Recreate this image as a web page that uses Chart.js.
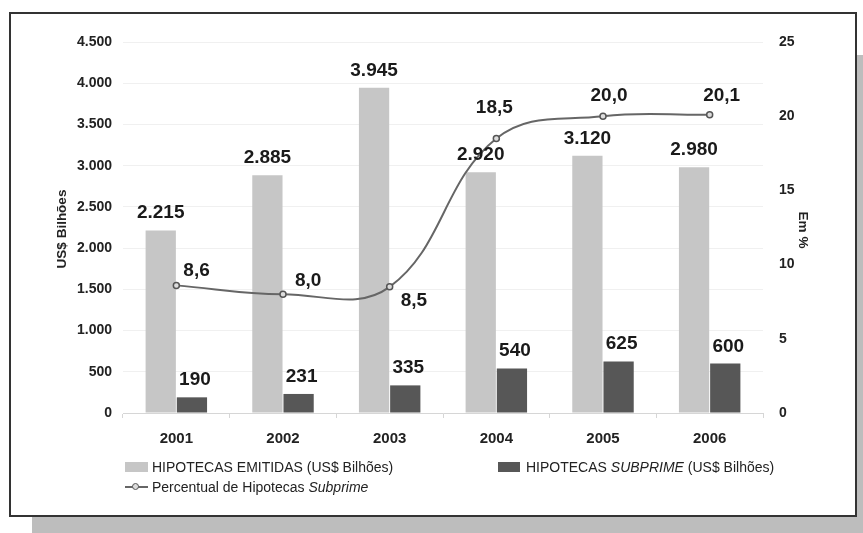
<!DOCTYPE html>
<html>
<head>
<meta charset="utf-8">
<script src="https://cdn.jsdelivr.net/npm/chart.js@4"></script>
<style>
  body { margin: 0; background: #fff; font-family: Arial, "Liberation Sans", sans-serif; }
  #wrap { position: relative; width: 863px; height: 533px; overflow: hidden; }
  #box { position: absolute; left: 9px; top: 12px; width: 848px; height: 505px; box-sizing: border-box;
         border: 2px solid #333; background: #fff; box-shadow: 23px 43px 0 #bdbdbd; }
  #chart { position: absolute; left: 0; top: 0; }
  .lg { position: absolute; font-size: 14px; line-height: 16px; color: #222; white-space: nowrap; }
  .sw { position: absolute; }
</style>
</head>
<body>
<div id="wrap">
  <div id="box"></div>
  <canvas id="chart" width="863" height="533"></canvas>
  <div class="sw" style="left:125px;top:462px;width:23px;height:10px;background:#c6c6c6"></div>
  <div class="lg" style="left:152px;top:459px">HIPOTECAS EMITIDAS (US$ Bilhões)</div>
  <div class="sw" style="left:498px;top:462px;width:22px;height:10px;background:#575757"></div>
  <div class="lg" style="left:526px;top:459px">HIPOTECAS <i>SUBPRIME</i> (US$ Bilhões)</div>
  <div class="sw" style="left:125px;top:486px;width:23px;height:2px;background:#666"></div>
  <div class="sw" style="left:132px;top:483px;width:5px;height:5px;border:1.5px solid #555;border-radius:50%;background:#ddd"></div>
  <div class="lg" style="left:152px;top:479px">Percentual de Hipotecas <i>Subprime</i></div>
</div>
<script>
// data
const years = ['2001', '2002', '2003', '2004', '2005', '2006'];
const emitidas = [2215, 2885, 3945, 2920, 3120, 2980];
const subprime = [190, 231, 335, 540, 625, 600];
const percentual = [8.6, 8.0, 8.5, 18.5, 20.0, 20.1];

// label placement for the percent line (dx, dy to baseline, align)
const pctLabelPos = [
  [7, -9, 'left'], [12, -8, 'left'], [11, 19, 'left'],
  [-2, -25, 'center'], [6, -15, 'center'], [12, -14, 'center']
];

const FONT = 'Arial, "Liberation Sans", sans-serif';

const fmtThousand = v => String(v).replace(/\B(?=(\d{3})+(?!\d))/g, '.');
const fmtPct = v => v.toFixed(1).replace('.', ',');

const labelsPlugin = {
  id: 'valueLabels',
  afterDatasetsDraw(chart) {
    const ctx = chart.ctx;
    ctx.save();
    ctx.font = 'bold 19px ' + FONT;
    ctx.fillStyle = '#1a1a1a';
    ctx.textBaseline = 'alphabetic';
    ctx.textAlign = 'center';
    [0, 1].forEach(di => {
      chart.getDatasetMeta(di).data.forEach((bar, i) => {
        ctx.fillText(fmtThousand(chart.data.datasets[di].data[i]), bar.x + (di === 1 ? 3 : 0), bar.y - 12);
      });
    });
    chart.getDatasetMeta(2).data.forEach((pt, i) => {
      const p = pctLabelPos[i];
      ctx.textAlign = p[2];
      ctx.fillText(fmtPct(percentual[i]), pt.x + p[0], pt.y + p[1]);
    });

    // axis titles
    ctx.font = 'bold 13.5px ' + FONT;
    ctx.fillStyle = '#222';
    ctx.textAlign = 'center';
    ctx.textBaseline = 'middle';
    ctx.save();
    ctx.translate(62, 229);
    ctx.rotate(-Math.PI / 2);
    ctx.fillText('US$ Bilhões', 0, 0);
    ctx.restore();
    ctx.save();
    ctx.translate(803, 230);
    ctx.rotate(Math.PI / 2);
    ctx.fillText('Em %', 0, 0);
    ctx.restore();
    ctx.restore();
  }
};

new Chart(document.getElementById('chart').getContext('2d'), {
  type: 'bar',
  data: {
    labels: years,
    datasets: [
      {
        label: 'HIPOTECAS EMITIDAS (US$ Bilhões)',
        data: emitidas,
        backgroundColor: '#c6c6c6',
        categoryPercentage: 0.585,
        barPercentage: 0.97,
        yAxisID: 'y',
        order: 1,
      },
      {
        label: 'HIPOTECAS SUBPRIME (US$ Bilhões)',
        data: subprime,
        backgroundColor: '#575757',
        categoryPercentage: 0.585,
        barPercentage: 0.97,
        yAxisID: 'y',
        order: 1,
      },
      {
        type: 'line',
        label: 'Percentual de Hipotecas Subprime',
        data: percentual,
        borderColor: '#666',
        borderWidth: 2,
        tension: 0.4,
        pointRadius: 3,
        pointBorderWidth: 1.5,
        pointBackgroundColor: '#ddd',
        pointBorderColor: '#555',
        yAxisID: 'y1',
        order: 0,
      },
    ],
  },
  options: {
    responsive: false,
    animation: false,
    layout: { padding: { top: 42, left: 0, right: 0, bottom: 0 } },
    plugins: { legend: { display: false }, tooltip: { enabled: false } },
    scales: {
      x: {
        afterFit: s => { s.height = 120; },
        grid: { offset: true, drawOnChartArea: false, drawTicks: true, tickLength: 5, color: '#d6d6d6' },
        border: { color: '#d6d6d6' },
        ticks: { padding: 12, color: '#222', font: { family: FONT, size: 15, weight: 'bold' } },
      },
      y: {
        position: 'left',
        min: 0,
        max: 4500,
        afterFit: s => { s.width = 123; },
        grid: { color: '#f0f0f0', drawTicks: false },
        border: { display: false },
        ticks: {
          stepSize: 500,
          padding: 11,
          color: '#222',
          font: { family: FONT, size: 14, weight: 'bold' },
          callback: v => fmtThousand(v),
        },
      },
      y1: {
        position: 'right',
        min: 0,
        max: 25,
        afterFit: s => { s.width = 100; },
        grid: { drawOnChartArea: false, drawTicks: false },
        border: { display: false },
        ticks: { stepSize: 5, padding: 16, color: '#222', font: { family: FONT, size: 14, weight: 'bold' } },
      },
    },
  },
  plugins: [labelsPlugin],
});
</script>
</body>
</html>
